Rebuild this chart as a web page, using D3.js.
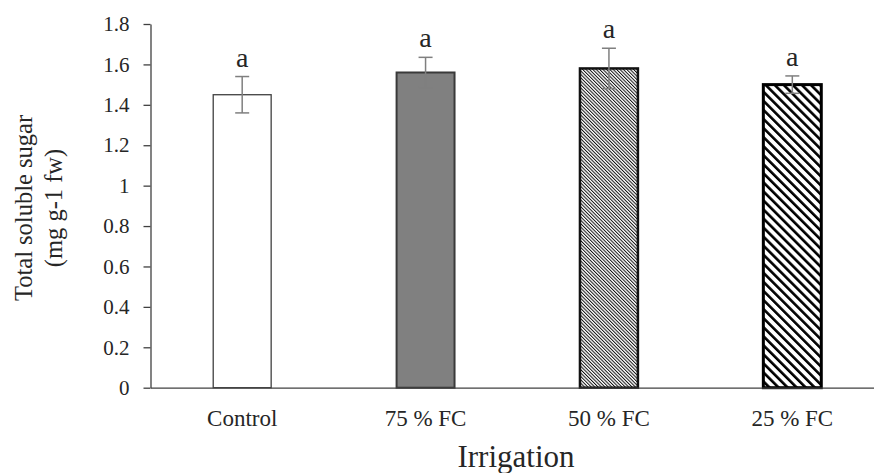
<!DOCTYPE html>
<html>
<head>
<meta charset="utf-8">
<script src="https://cdn.jsdelivr.net/npm/d3@7"></script>
<style>
  body { margin: 0; background: #fff; }
  svg { display: block; font-family: "Liberation Serif", "Times New Roman", serif; }
  .axis path, .axis line { stroke: #404040; stroke-width: 1.3px; }
  .axis text { fill: #262626; }
</style>
</head>
<body>
<svg id="chart" width="874" height="473"></svg>
<script>
// values
var categories = ["Control", "75 % FC", "50 % FC", "25 % FC"];
var means = [1.45, 1.56, 1.58, 1.50];
var errors = [0.09, 0.075, 0.10, 0.043];
var letters = ["a", "a", "a", "a"];
var yTicks = [0, 0.2, 0.4, 0.6, 0.8, 1, 1.2, 1.4, 1.6, 1.8];

var data = categories.map(function(c, i) {
  return { cat: c, mean: means[i], err: errors[i], letter: letters[i] };
});

var svg = d3.select("#chart");

// patterns for the hatched bars
var defs = svg.append("defs");
defs.append("pattern")
  .attr("id", "fine")
  .attr("patternUnits", "userSpaceOnUse")
  .attr("width", 2.4).attr("height", 10)
  .attr("patternTransform", "rotate(-45)")
  .append("rect").attr("width", 1).attr("height", 10).attr("fill", "#111");
defs.append("pattern")
  .attr("id", "wide")
  .attr("patternUnits", "userSpaceOnUse")
  .attr("width", 6.4).attr("height", 10)
  .attr("patternTransform", "rotate(-45)")
  .append("rect").attr("width", 2.6).attr("height", 10).attr("fill", "#000");

var fills = ["#ffffff", "#808080", "url(#fine)", "url(#wide)"];
var strokes = ["#404040", "#3a3a3a", "#111", "#000"];
var strokeW = [1.3, 2, 2.5, 3];

var x = d3.scaleBand()
  .domain(categories)
  .range([150.5, 884])
  .paddingInner(0.684)
  .paddingOuter(0.342);

var y = d3.scaleLinear()
  .domain([0, 1.8])
  .range([387.7, 24]);

// white underlay so the hatching sits on white
svg.selectAll(".bar")
  .data(data)
  .enter().append("rect")
  .attr("class", "bar")
  .attr("x", function(d) { return x(d.cat); })
  .attr("y", function(d) { return y(d.mean); })
  .attr("width", x.bandwidth())
  .attr("height", function(d) { return y(0) - y(d.mean); })
  .attr("fill", "#fff");

svg.selectAll(".hatch")
  .data(data)
  .enter().append("rect")
  .attr("class", "hatch")
  .attr("x", function(d) { return x(d.cat); })
  .attr("y", function(d) { return y(d.mean); })
  .attr("width", x.bandwidth())
  .attr("height", function(d) { return y(0) - y(d.mean); })
  .attr("fill", function(d, i) { return fills[i]; })
  .attr("stroke", function(d, i) { return strokes[i]; })
  .attr("stroke-width", function(d, i) { return strokeW[i]; });

// error bars
var eb = svg.selectAll(".err")
  .data(data)
  .enter().append("g")
  .attr("class", "err")
  .attr("stroke", "#7f7f7f")
  .attr("stroke-width", 1.5);

eb.append("line")
  .attr("x1", function(d) { return x(d.cat) + x.bandwidth() / 2; })
  .attr("x2", function(d) { return x(d.cat) + x.bandwidth() / 2; })
  .attr("y1", function(d) { return y(d.mean - d.err); })
  .attr("y2", function(d) { return y(d.mean + d.err); });

[-1, 1].forEach(function(s) {
  eb.append("line")
    .attr("x1", function(d) { return x(d.cat) + x.bandwidth() / 2 - 7; })
    .attr("x2", function(d) { return x(d.cat) + x.bandwidth() / 2 + 7; })
    .attr("y1", function(d) { return y(d.mean + s * d.err); })
    .attr("y2", function(d) { return y(d.mean + s * d.err); });
});

// significance letters
svg.selectAll(".letter")
  .data(data)
  .enter().append("text")
  .attr("x", function(d) { return x(d.cat) + x.bandwidth() / 2; })
  .attr("y", function(d) { return y(d.mean + d.err) - 10; })
  .attr("text-anchor", "middle")
  .style("font-size", "28px")
  .style("fill", "#262626")
  .text(function(d) { return d.letter; });

// axes
var xAxis = svg.append("g")
  .attr("class", "axis")
  .attr("transform", "translate(0," + y(0) + ")")
  .call(d3.axisBottom(x).tickSize(0).tickSizeOuter(0));
xAxis.attr("font-family", null).attr("font-size", null);
xAxis.selectAll("text")
  .attr("dy", null)
  .attr("y", 38)
  .style("font-size", "23px");

var yAxis = svg.append("g")
  .attr("class", "axis")
  .attr("transform", "translate(150.5,0)")
  .call(d3.axisLeft(y).tickValues(yTicks).tickSize(7).tickSizeOuter(0)
    .tickFormat(function(d) { return String(d); }));
yAxis.attr("font-family", null).attr("font-size", null);
yAxis.selectAll("text")
  .attr("x", -21)
  .style("font-size", "21px");

// axis titles
svg.append("text")
  .attr("x", 516)
  .attr("y", 467)
  .attr("text-anchor", "middle")
  .style("font-size", "31px")
  .style("fill", "#262626")
  .text("Irrigation");

var yTitle = svg.append("text")
  .attr("transform", "translate(0,208) rotate(-90)")
  .attr("text-anchor", "middle")
  .style("font-size", "24.5px")
  .style("fill", "#262626");
yTitle.append("tspan").attr("x", 0).attr("y", 32).text("Total soluble sugar");
yTitle.append("tspan").attr("x", 0).attr("y", 62).text("(mg g-1 fw)");
</script>
</body>
</html>
